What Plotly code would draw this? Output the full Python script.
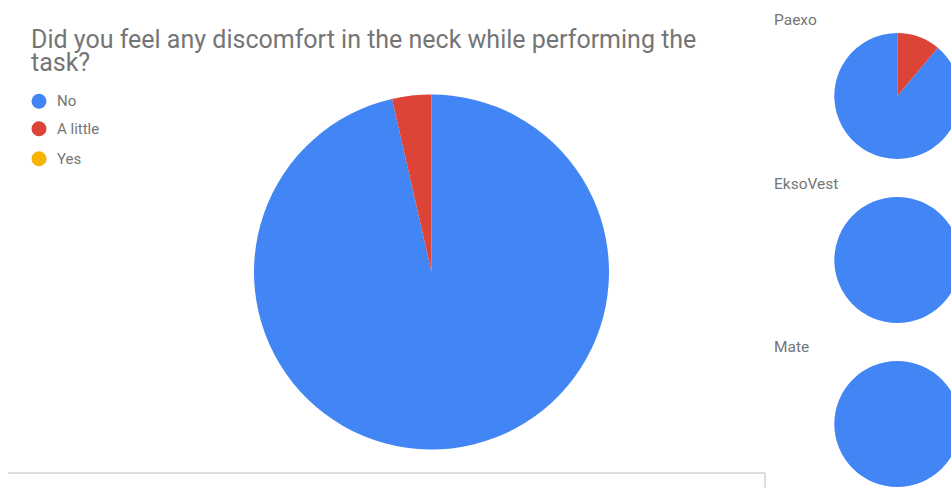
import plotly.graph_objects as go

# Survey answers: "Did you feel any discomfort in the neck while performing the task?"
categories = ["No", "A little", "Yes"]
colors = ["#4285F4", "#DB4437", "#F4B400"]

overall_counts = [27, 1, 0]
devices = ["Paexo", "EksoVest", "Mate"]
device_counts = {
    "Paexo": [8, 1, 0],
    "EksoVest": [9, 0, 0],
    "Mate": [10, 0, 0],
}

title_lines = ["Did you feel any discomfort in the neck while performing the", "task?"]

W, H = 962, 488
TEXT = "#757575"
FONT = "Roboto, Arial, sans-serif"


def dom(cx, cy, r):
    """Pie domain (paper fractions) for a pie centred at pixel (cx, cy) with radius r."""
    return dict(x=[(cx - r) / W, (cx + r) / W],
                y=[(H - cy - r) / H, (H - cy + r) / H])


fig = go.Figure()

# Main pie with all answers combined
fig.add_trace(go.Pie(
    labels=categories, values=overall_counts,
    marker=dict(colors=colors, line=dict(width=0)),
    sort=False, direction="clockwise", rotation=0,
    textinfo="none", hoverinfo="label+value+percent",
    showlegend=False, domain=dom(431.5, 272, 177.5),
))

# One small pie per device; slices start after the non-"No" share so that
# the "A little" wedge sits just right of 12 o'clock
small_pos = {"Paexo": 96, "EksoVest": 260, "Mate": 424}
for name in devices:
    vals = device_counts[name]
    start = 360.0 * sum(vals[1:]) / sum(vals)
    fig.add_trace(go.Pie(
        labels=categories, values=vals,
        marker=dict(colors=colors, line=dict(width=0)),
        sort=False, direction="clockwise", rotation=start,
        textinfo="none", hoverinfo="label+value+percent",
        showlegend=False, domain=dom(897.3, small_pos[name], 63),
        name=name,
    ))

annotations = []


def label(text, px, py, size, color=TEXT):
    annotations.append(dict(
        text=text, xref="paper", yref="paper",
        x=px / W, y=(H - py) / H, xanchor="left", yanchor="middle",
        showarrow=False, font=dict(family=FONT, size=size, color=color),
    ))


# Two-line title with tight line spacing
label(title_lines[0], 29, 40, 25)
label(title_lines[1], 29, 63, 25)

# Device captions
for name, py in zip(devices, [20, 184, 347]):
    label(name, 771.5, py, 15.5)

# Legend with round swatches
shapes = []
for cat, col, py in zip(categories, colors, [101.3, 128.7, 158.7]):
    shapes.append(dict(
        type="circle", xref="paper", yref="paper",
        xsizemode="pixel", ysizemode="pixel",
        xanchor=39 / W, yanchor=(H - py) / H,
        x0=-7.5, x1=7.5, y0=-7.5, y1=7.5,
        fillcolor=col, line=dict(width=0),
    ))
    label(cat, 55, py, 15)

# Frame lines below the main chart
shapes.append(dict(type="line", xref="paper", yref="paper",
                   x0=8 / W, x1=765 / W, y0=(H - 473) / H, y1=(H - 473) / H,
                   line=dict(color="#BDBDBD", width=1)))
shapes.append(dict(type="line", xref="paper", yref="paper",
                   x0=765 / W, x1=765 / W, y0=(H - 473) / H, y1=0,
                   line=dict(color="#BDBDBD", width=1)))

fig.update_layout(
    width=W, height=H,
    margin=dict(l=0, r=0, t=0, b=0),
    paper_bgcolor="white", plot_bgcolor="white",
    annotations=annotations, shapes=shapes,
    font=dict(family=FONT, color=TEXT),
)

fig.write_html(
    "out.html",
    post_script="document.documentElement.style.overflow='hidden';document.body.style.overflow='hidden';document.body.style.margin='0';",
)
